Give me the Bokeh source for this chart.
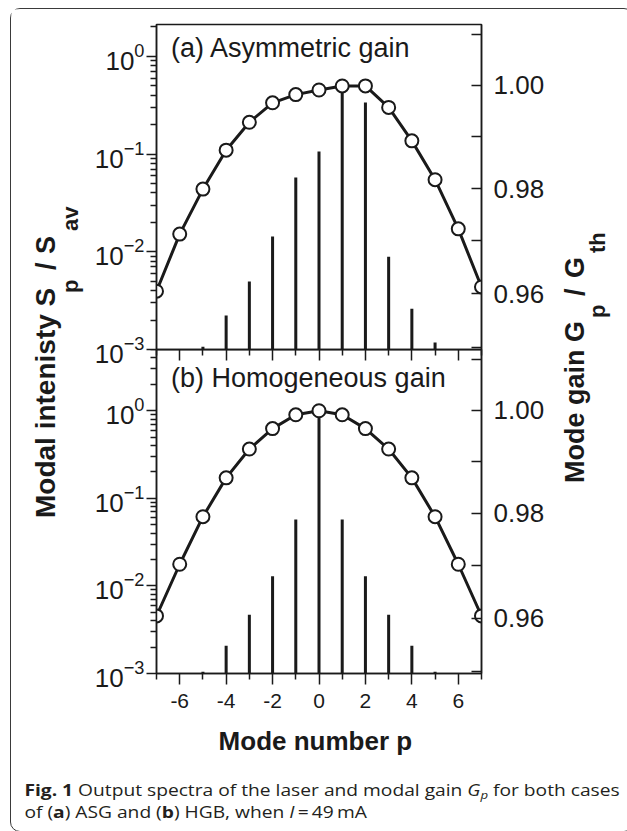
import math
from bokeh.plotting import figure
from bokeh.models import Range1d, LinearAxis, FixedTicker, PrintfTickFormatter, Label, Div
from bokeh.layouts import row, column
from bokeh.embed import file_html
from bokeh.resources import INLINE

# ---------------- data ----------------
mode_number = [-7, -6, -5, -4, -3, -2, -1, 0, 1, 2, 3, 4, 5, 6, 7]
bar_modes = [-5, -4, -3, -2, -1, 0, 1, 2, 3, 4, 5]
# (a) asymmetric gain: modal intensity S_p/S_av (log) and mode gain G_p/G_th
asg_intensity = [1.07e-3, 2.23e-3, 4.96e-3, 0.0143, 0.0575, 0.106,
                 0.48, 0.337, 8.9e-3, 2.62e-3, 1.18e-3]
asg_gain = [0.9605, 0.9713, 0.9799, 0.9874, 0.9928, 0.9966, 0.9982, 0.9991,
            0.9999, 0.9999, 0.9957, 0.9892, 0.9817, 0.9723, 0.9613]
# (b) homogeneous gain
hgb_intensity = [1.05e-3, 2.07e-3, 4.69e-3, 0.0129, 0.0572, 1.0,
                 0.0572, 0.0129, 4.69e-3, 2.07e-3, 1.05e-3]
hgb_gain = [0.9604, 0.9702, 0.9793, 0.9868, 0.9924, 0.9964, 0.9991, 0.9999,
            0.9991, 0.9964, 0.9924, 0.9868, 0.9793, 0.9702, 0.9604]

x_major_ticks = [-6, -4, -2, 0, 2, 4, 6]
x_minor_ticks = [-7, -5, -3, -1, 1, 3, 5, 7]
x_tick_labels = {t: str(t) for t in x_major_ticks}
log_major_ticks = [1e-3, 1e-2, 1e-1, 1e0]
log_minor_ticks = [m * 10.0 ** e for e in (-3, -2, -1, 0) for m in range(2, 10)]
gain_major_ticks = [0.96, 0.98, 1.00]
gain_minor_ticks = [0.95, 0.97, 0.99, 1.01]
panel_titles = ["(a) Asymmetric gain", "(b) Homogeneous gain"]
x_label = "Mode number  p"

# ---------------- layout / style ----------------
FONT = "Liberation Sans"
INK = "#1a1a1a"
FRAME_W = 325
LEFT_B, RIGHT_B = 64, 72
TOP_B, JOIN_B, BOT_B = 15, 24, 90
TOP_FRAME_H, BOT_FRAME_H = 325, 324
X_RANGE = (-7, 7)
G_RANGE = (0.9496, 1.012)
LOG_MIN = 1e-3
TOP_LOG_MAX = 2.12
BOT_LOG_MAX = 5.0
WL, WR = 80, 71
ROW_H = TOP_B + TOP_FRAME_H + BOT_FRAME_H + BOT_B
PAGE_X0, PAGE_Y0 = 11.5, 9.5   # page position of the content box (margin + border)
MID = 0.3465                   # baseline-to-middle distance, in em
TITLE_SIZE = 27


def gain_at(px_from_top, frame_h):
    lo, hi = G_RANGE
    return hi - px_from_top * (hi - lo) / frame_h


def style_lines(a):
    a.axis_line_color = INK
    a.axis_line_width = 1.5
    a.major_tick_line_color = INK
    a.major_tick_line_width = 1.5
    a.minor_tick_line_color = INK
    a.minor_tick_line_width = 1.5


def make_panel(intensity, gain, title, log_max, frame_h, top_b, bot_b, is_bottom,
               title_baseline_dy):
    p = figure(frame_width=FRAME_W, frame_height=frame_h,
               min_border_left=LEFT_B, min_border_right=RIGHT_B,
               min_border_top=top_b, min_border_bottom=bot_b,
               x_range=Range1d(*X_RANGE), y_range=Range1d(LOG_MIN, log_max),
               y_axis_type="log", output_backend="svg", toolbar_location=None)
    p.extra_y_ranges = {"g": Range1d(*G_RANGE)}
    p.xgrid.grid_line_color = None
    p.ygrid.grid_line_color = None
    p.outline_line_color = INK
    p.outline_line_width = 1.5
    p.background_fill_color = "white"
    p.border_fill_alpha = 0
    if is_bottom:
        p.background_fill_alpha = 0
        p.margin = (-JOIN_B, 0, 0, 0)
    else:
        # upper panel is painted above the (transparent) top strip of the lower one
        p.styles = {"position": "relative", "z-index": "2"}

    ya = p.yaxis[0]
    ya.ticker = FixedTicker(ticks=log_major_ticks, minor_ticks=log_minor_ticks)
    ya.major_tick_out, ya.major_tick_in = 10, 0
    ya.minor_tick_out, ya.minor_tick_in = 6, 0
    ya.major_label_standoff = 2
    ya.major_label_text_font = FONT
    ya.major_label_text_font_size = "26px"
    ya.major_label_text_color = INK
    style_lines(ya)

    ra = LinearAxis(y_range_name="g",
                    ticker=FixedTicker(ticks=gain_major_ticks, minor_ticks=gain_minor_ticks),
                    formatter=PrintfTickFormatter(format="%.2f"))
    ra.major_tick_in, ra.major_tick_out = 10, 0
    ra.minor_tick_in, ra.minor_tick_out = 10, 0
    ra.major_label_standoff = 12
    ra.major_label_text_font = FONT
    ra.major_label_text_font_size = "26px"
    ra.major_label_text_color = INK
    style_lines(ra)
    p.add_layout(ra, "right")

    xa = p.below[0]
    xa.ticker = FixedTicker(ticks=x_major_ticks, minor_ticks=x_minor_ticks)
    xa.major_tick_out, xa.major_tick_in = 11, 0
    xa.minor_tick_out, xa.minor_tick_in = 6, 0
    style_lines(xa)
    if is_bottom:
        xa.major_label_overrides = x_tick_labels
        xa.major_label_standoff = 9
        xa.major_label_text_font = FONT
        xa.major_label_text_font_size = "21px"
        xa.major_label_text_color = INK
        xa.axis_label = x_label
        xa.axis_label_text_font = FONT
        xa.axis_label_text_font_size = "26px"
        xa.axis_label_text_font_style = "bold"
        xa.axis_label_text_color = INK
        xa.axis_label_standoff = 15
    else:
        # ticks on the junction of the two panels, no labels
        xa.major_label_overrides = {t: "" for t in x_major_ticks}
        xa.major_label_text_font_size = "0px"
        xa.major_label_standoff = 0

    p.vbar(x=bar_modes, top=intensity, bottom=LOG_MIN, width=0.13,
           fill_color=INK, line_color=None)
    p.line(mode_number, gain, y_range_name="g", line_width=3, line_color=INK)
    p.scatter(mode_number, gain, y_range_name="g", marker="circle", size=13,
              fill_color="white", line_color=INK, line_width=2)

    p.add_layout(Label(x=X_RANGE[0] + 14.5 * (X_RANGE[1] - X_RANGE[0]) / FRAME_W,
                       y=gain_at(title_baseline_dy - MID * TITLE_SIZE, frame_h),
                       y_range_name="g", text=title, text_font=FONT,
                       text_font_size=f"{TITLE_SIZE}px", text_color=INK,
                       text_align="left", text_baseline="middle"))
    return p


top = make_panel(asg_intensity, asg_gain, panel_titles[0], TOP_LOG_MAX, TOP_FRAME_H,
                 TOP_B, JOIN_B, False, 33.5)
bottom = make_panel(hgb_intensity, hgb_gain, panel_titles[1], BOT_LOG_MAX, BOT_FRAME_H,
                    0, BOT_B, True, 38.5)


def title_fig(x0, x1, pieces):
    f = figure(width=int(round(x1 - x0)), height=ROW_H,
               x_range=Range1d(x0, x1), y_range=Range1d(PAGE_Y0 + ROW_H, PAGE_Y0),
               x_axis_type=None, y_axis_type=None, min_border=0,
               output_backend="svg", toolbar_location=None)
    f.outline_line_color = None
    f.background_fill_color = "white"
    f.border_fill_color = "white"
    for txt, base_x, start_y, size in pieces:
        f.add_layout(Label(x=base_x - MID * size, y=start_y, text=txt, angle=math.pi / 2,
                           text_font=FONT, text_font_size=f"{size}px",
                           text_font_style="bold", text_color=INK,
                           text_align="left", text_baseline="middle"))
    return f


# page-pixel placement of the rotated axis titles (baseline x, start y, size)
left_title = title_fig(PAGE_X0, PAGE_X0 + WL, [
    ("Modal intenisty S", 55, 518, 28),
    ("p", 78, 293, 22),
    ("/", 55, 270, 27),
    ("S", 55, 254, 27),
    ("av", 78, 231, 22),
])
RX0 = PAGE_X0 + WL + LEFT_B + FRAME_W + RIGHT_B
right_title = title_fig(RX0, RX0 + WR, [
    ("Mode gain G", 583, 483, 27),
    ("p", 604, 318, 22),
    ("/", 583, 296, 27),
    ("G", 583, 278, 27),
    ("th", 604, 253, 22),
])

caption_html = (
    '<div style="padding:11px 0 0 7px; font-family:\'Open Sans\'; font-size:16px; '
    'line-height:22px; color:#231f20; white-space:nowrap; '
    'transform:scaleX(1.2); transform-origin:0 0;">'
    '<b>Fig. 1</b> Output spectra of the laser and modal gain '
    '<i>G<sub style="font-size:11px; line-height:0; vertical-align:-3px">p</sub></i> '
    'for both cases<br>'
    'of (<b>a</b>) ASG and (<b>b</b>) HGB, when <i>I</i>&thinsp;=&thinsp;49&thinsp;mA</div>'
)
caption = Div(text=caption_html, width=WL + LEFT_B + FRAME_W + RIGHT_B + WR,
              height=815 - 3 - ROW_H)

root = column(
    row(left_title, column(top, bottom), right_title),
    caption,
    styles={"border": "1.5px solid #3a3a3a", "border-radius": "10px"},
    margin=(8, 0, 0, 10),
)

with open("out.html", "w") as fh:
    fh.write(file_html(root, INLINE))
